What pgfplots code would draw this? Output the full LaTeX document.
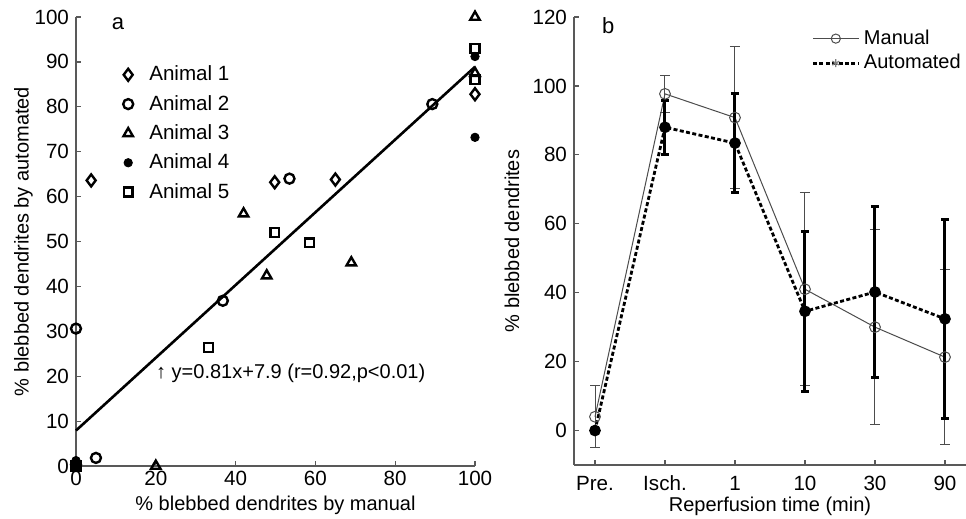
\documentclass[border=0pt]{standalone}
\usepackage{pgfplots}
\pgfplotsset{compat=1.18}
\usepackage{fontspec}
\setmainfont{Liberation Sans}

\pgfplotstableread{
x y e
1 4 9
2 97.7 5.3
3 90.8 20.6
4 41 28
5 30 28.2
6 21.3 25.3
}\manual
\pgfplotstableread{
x y e
1 0 0
2 88 7.9
3 83.4 14.4
4 34.6 23.3
5 40.2 24.9
6 32.4 28.9
}\automated

\begin{document}
\begin{tikzpicture}
\path[use as bounding box] (0pt,0pt) rectangle (483pt,-259.5pt);
\pgfplotsset{
  matlab/.style={
    scale only axis,
    axis x line=bottom, axis y line=left,
    axis line style={-, black!65, line width=0.6pt},
    tick align=inside, major tick length=2.5pt,
    tick style={black!65, line width=0.6pt},
    every tick label/.append style={font=\fontsize{10.3}{12}\selectfont},
    label style={font=\fontsize{10}{12}\selectfont},
    /pgf/number format/assume math mode=true,
    clip=false,
  }
}
% panel a: scatter
\begin{axis}[matlab,
  at={(38pt,-233pt)}, anchor=south west,
  width=199.5pt, height=224.5pt,
  xmin=0, xmax=100, ymin=0, ymax=100,
  xtick={0,20,...,100}, ytick={0,10,...,100},
  xticklabel style={yshift=0.8pt},
  xlabel={\% blebbed dendrites by manual},
  ylabel={\% blebbed dendrites by automated},
  xlabel style={at={(axis description cs:0.5,-0.087)}, anchor=center},
  ylabel style={at={(axis description cs:-0.132,0.5)}, anchor=center},
  legend style={draw=none, fill=none, at={(axis description cs:0.072,0.91)},
    anchor=north west, font=\fontsize{10.3}{12}\selectfont, row sep=1.7pt},
  legend cell align=left,
  legend image code/.code={
    \path[draw=none] (0cm,0cm) (0.6cm,0cm);
    \draw[#1] plot coordinates {(0.3cm,0cm)};},
]
\addplot[only marks, mark=diamond, mark size=3pt, mark options={line width=1.2pt}] coordinates {
  (0,0.5) (3.8,63.6) (49.8,63.2) (65,63.8) (100,82.8)};
\addlegendentry{Animal 1}
\addplot[only marks, mark=o, mark size=2.5pt, mark options={line width=1.2pt}] coordinates {
  (0,30.6) (0,0.3) (5,1.8) (36.8,36.8) (53.5,64) (89.3,80.6)};
\addlegendentry{Animal 2}
\addplot[only marks, mark=triangle, mark size=2.7pt, mark options={line width=1.2pt}] coordinates {
  (20,0) (42,56.2) (47.8,42.4) (69,45.3) (100,100) (100,87.5)};
\addlegendentry{Animal 3}
\addplot[only marks, mark=*, mark size=2.1pt] coordinates {
  (0,0) (0,1.2) (100,91.2) (100,73.2)};
\addlegendentry{Animal 4}
\addplot[only marks, mark=square, mark size=2.2pt, mark options={line width=1.2pt}] coordinates {
  (0,0) (33.2,26.4) (49.8,52) (58.5,49.7) (100,93) (100,86)};
\addlegendentry{Animal 5}
\addplot[black, line width=1.3pt, forget plot] coordinates {(0,7.9) (100,88.9)};
\node[anchor=west, font=\fontsize{10}{12}\selectfont, inner sep=0pt] at (axis cs:20,20.6) {↑ y=0.81x+7.9 (r=0.92,p<0.01)};
\node[font=\fontsize{11}{13}\selectfont] at (axis cs:10.5,98.5) {a};
\end{axis}
% panel b: time course
\begin{axis}[matlab,
  at={(287pt,-232.5pt)}, anchor=south west,
  width=196pt, height=224pt,
  xmin=0.7, xmax=6.3, ymin=-10, ymax=120,
  xtick={1,...,6}, xticklabels={Pre.,Isch.,1,10,30,90},
  xticklabel style={yshift=-2pt},
  ytick={0,20,...,120},
  xlabel={Reperfusion time (min)},
  ylabel={\% blebbed dendrites},
  xlabel style={at={(axis description cs:0.5,-0.092)}, anchor=center},
  ylabel style={at={(axis description cs:-0.158,0.5)}, anchor=center},
  legend style={draw=none, fill=none, at={(axis description cs:0.59,0.99)},
    anchor=north west, font=\fontsize{10}{12}\selectfont, row sep=-0.5pt},
  legend cell align=left,
  legend image code/.code={
    \draw[mark repeat=2, mark phase=2, #1] plot coordinates {(0cm,0cm) (0.4cm,0cm) (0.8cm,0cm)};},
]
\addlegendimage{black!70, line width=0.5pt, mark=o, mark size=2.3pt}
\addlegendentry{Manual}
\addlegendimage{black, line width=1.4pt, dash pattern=on 2pt off 1.2pt, mark=asterisk, mark size=2pt, mark options={solid, gray, line width=0.6pt}}
\addlegendentry{Automated}
\addplot[black!70, line width=0.5pt, mark=o, mark size=2.7pt, forget plot,
  error bars/.cd, y dir=both, y explicit,
  error bar style={black!70, line width=0.5pt},
  error mark options={rotate=90, black!70, mark size=2.5pt, line width=0.5pt}]
  table[x=x, y=y, y error=e] {\manual};
\addplot[black, line width=1.4pt, dash pattern=on 2pt off 1.2pt, mark=*, mark size=2.2pt,
  mark options={solid}, forget plot,
  error bars/.cd, y dir=both, y explicit,
  error bar style={black, line width=1.5pt, solid},
  error mark options={rotate=90, black, mark size=2pt, line width=1.5pt, solid}]
  table[x=x, y=y, y error=e] {\automated};
\node[font=\fontsize{11}{13}\selectfont] at (axis cs:1.19,117.5) {b};
\end{axis}
\end{tikzpicture}
\end{document}
